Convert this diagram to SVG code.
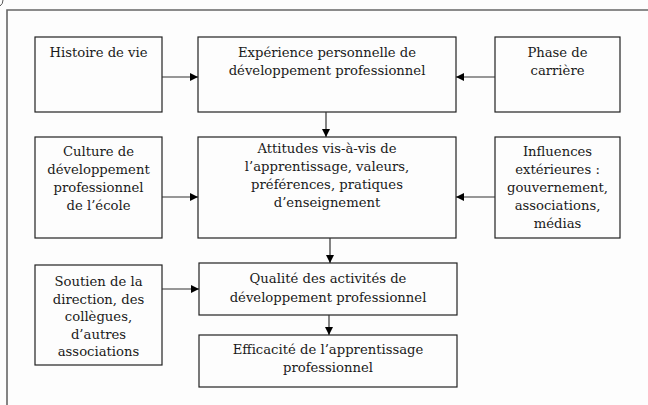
<svg xmlns="http://www.w3.org/2000/svg" width="648" height="405" viewBox="0 0 648 405">
<style>
.box{fill:#fdfdfd;stroke:#222;stroke-width:1.2}
.t{font-family:"DejaVu Serif","Liberation Serif",serif;font-size:13.2px;fill:#1a1a1a;text-anchor:middle}
.c{stroke:#333;stroke-width:1.2;fill:none}
.frame{stroke:#666;stroke-width:1.6;fill:none}
</style>
<defs>
<marker id="ah" viewBox="0 0 10 10" refX="10" refY="5" markerWidth="8" markerHeight="8" markerUnits="userSpaceOnUse" orient="auto">
<path d="M0,0 L10,5 L0,10 Z" fill="#000"/>
</marker>
</defs>
<rect width="648" height="405" fill="#fdfdfd"/>
<path class="frame" d="M7,405 V10 H648"/>
<path d="M0,6 Q3,4 3,0" stroke="#555" stroke-width="1" fill="none"/>

<g id="histoire">
<rect class="box" x="35" y="37" width="127" height="75"/>
<text class="t" x="98.5" y="57">Histoire de vie</text>
</g>
<g id="experience">
<rect class="box" x="198" y="37" width="258" height="75"/>
<text class="t" x="327" y="57">Expérience personnelle de</text>
<text class="t" x="327" y="75">développement professionnel</text>
</g>
<g id="phase">
<rect class="box" x="495" y="37" width="125" height="75"/>
<text class="t" x="557.5" y="57">Phase de</text>
<text class="t" x="557.5" y="75">carrière</text>
</g>

<g id="culture">
<rect class="box" x="35" y="137" width="127" height="101"/>
<text class="t" x="98.5" y="156">Culture de</text>
<text class="t" x="98.5" y="174">développement</text>
<text class="t" x="98.5" y="192">professionnel</text>
<text class="t" x="98.5" y="210">de l’école</text>
</g>
<g id="attitudes">
<rect class="box" x="198" y="137" width="258" height="101"/>
<text class="t" x="327" y="153">Attitudes vis-à-vis de</text>
<text class="t" x="327" y="171">l’apprentissage, valeurs,</text>
<text class="t" x="327" y="189">préférences, pratiques</text>
<text class="t" x="327" y="207">d’enseignement</text>
</g>
<g id="influences">
<rect class="box" x="495" y="137" width="125" height="101"/>
<text class="t" x="557.5" y="156">Influences</text>
<text class="t" x="557.5" y="174">extérieures :</text>
<text class="t" x="557.5" y="192">gouvernement,</text>
<text class="t" x="557.5" y="210">associations,</text>
<text class="t" x="557.5" y="228">médias</text>
</g>

<g id="soutien">
<rect class="box" x="35" y="265" width="127" height="100"/>
<text class="t" x="98.5" y="286">Soutien de la</text>
<text class="t" x="98.5" y="303.5">direction, des</text>
<text class="t" x="98.5" y="321">collègues,</text>
<text class="t" x="98.5" y="338.5">d’autres</text>
<text class="t" x="98.5" y="356">associations</text>
</g>
<g id="qualite">
<rect class="box" x="199" y="263" width="258" height="52"/>
<text class="t" x="328" y="283">Qualité des activités de</text>
<text class="t" x="328" y="302">développement professionnel</text>
</g>
<g id="efficacite">
<rect class="box" x="199" y="335" width="258" height="52"/>
<text class="t" x="328" y="354">Efficacité de l’apprentissage</text>
<text class="t" x="328" y="372">professionnel</text>
</g>

<g id="connectors">
<line class="c" x1="162" y1="77" x2="198" y2="77" marker-end="url(#ah)"/>
<line class="c" x1="495" y1="77" x2="456" y2="77" marker-end="url(#ah)"/>
<line class="c" x1="326" y1="112" x2="326" y2="137" marker-end="url(#ah)"/>
<line class="c" x1="162" y1="197" x2="198" y2="197" marker-end="url(#ah)"/>
<line class="c" x1="495" y1="197" x2="456" y2="197" marker-end="url(#ah)"/>
<line class="c" x1="330" y1="238" x2="330" y2="263" marker-end="url(#ah)"/>
<line class="c" x1="162" y1="289" x2="199" y2="289" marker-end="url(#ah)"/>
<line class="c" x1="329" y1="315" x2="329" y2="335" marker-end="url(#ah)"/>
</g>
</svg>
